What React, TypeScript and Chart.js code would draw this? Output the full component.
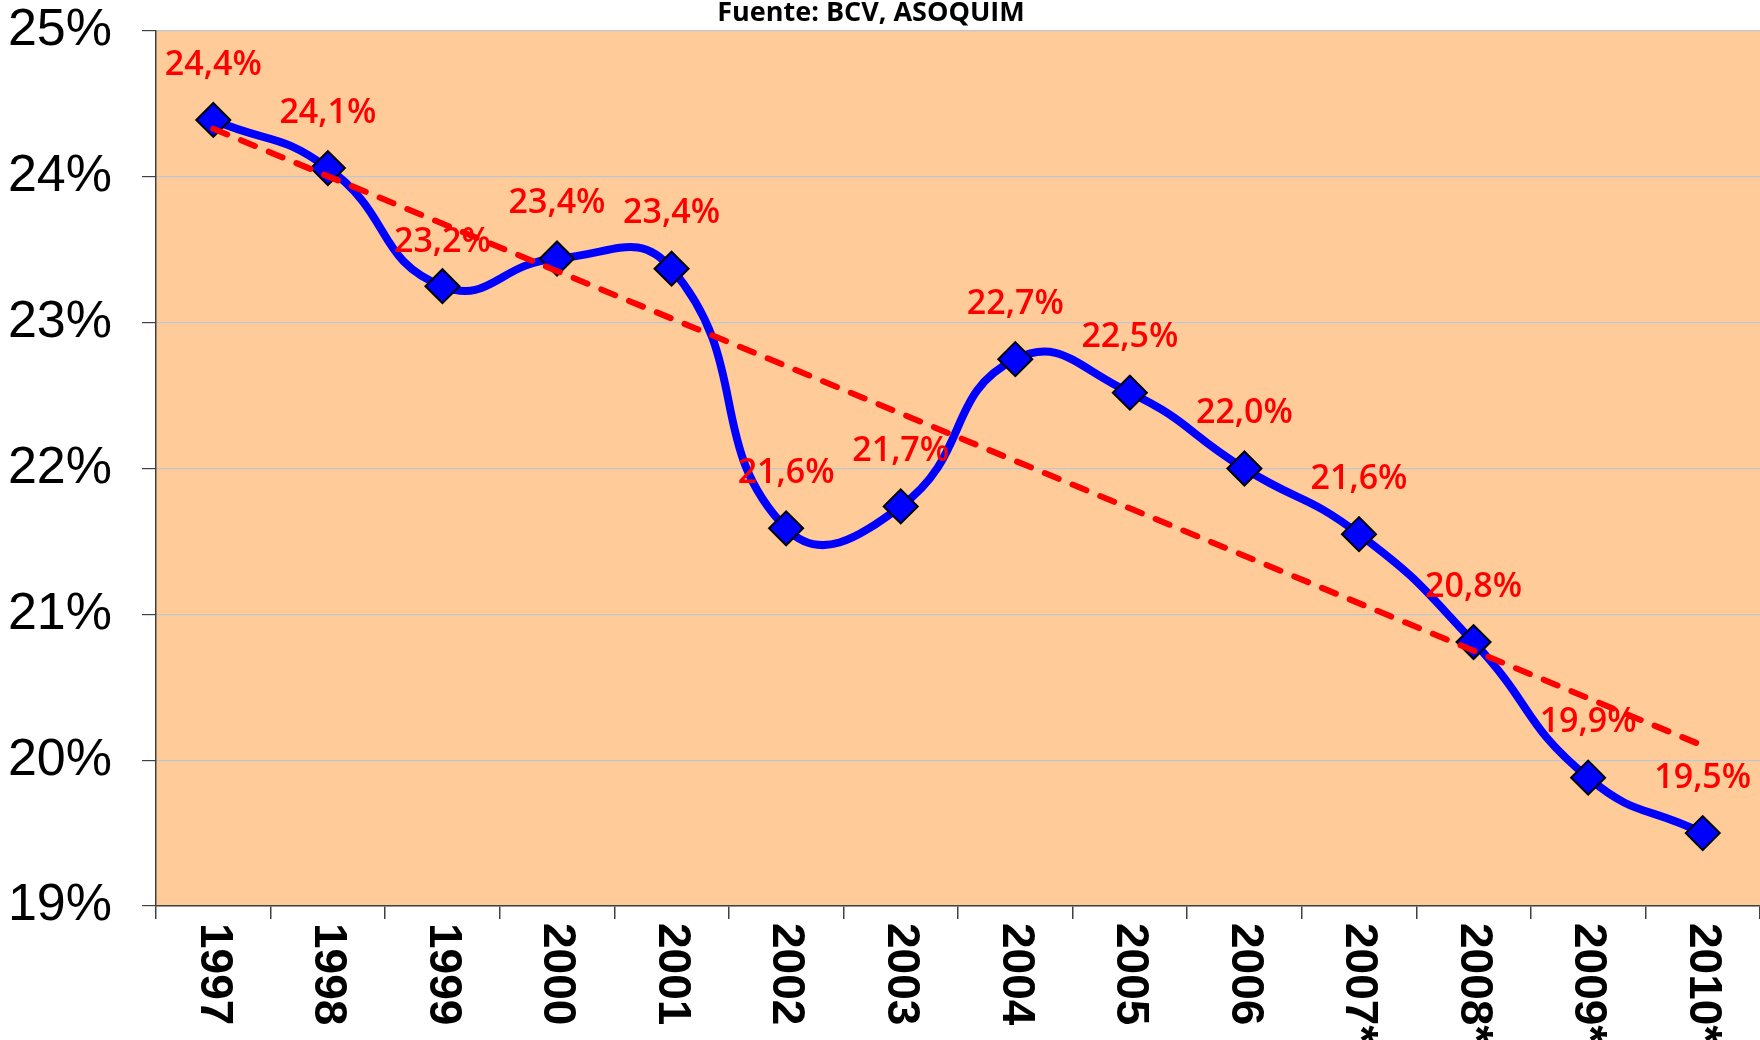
import React, { useEffect, useRef } from 'react';
import { Chart, registerables } from 'chart.js';

Chart.register(...registerables);

const years = ['1997', '1998', '1999', '2000', '2001', '2002', '2003', '2004', '2005', '2006', '2007*', '2008*', '2009*', '2010*'];
const shareValues = [24.39, 24.06, 23.25, 23.44, 23.37, 21.59, 21.74, 22.75, 22.52, 22.0, 21.55, 20.81, 19.88, 19.5];
const shareLabels = ['24,4%', '24,1%', '23,2%', '23,4%', '23,4%', '21,6%', '21,7%', '22,7%', '22,5%', '22,0%', '21,6%', '20,8%', '19,9%', '19,5%'];
const trendValues = [24.33, null, null, null, null, null, null, null, null, null, null, null, null, 20.1];
const yMin = 19;
const yMax = 25;
const titleText = 'Fuente: BCV, ASOQUIM';

const bgPlugin = {
  id: 'plotBg',
  beforeDraw(chart: any) {
    const { ctx, chartArea } = chart;
    ctx.save();
    ctx.fillStyle = '#ffffff';
    ctx.fillRect(0, 0, chart.width, chart.height);
    ctx.fillStyle = '#FECB99';
    ctx.fillRect(chartArea.left, chartArea.top, chartArea.right - chartArea.left, chartArea.bottom - chartArea.top);
    ctx.restore();
  },
};

const xLabelPlugin = {
  id: 'xLabels',
  afterDraw(chart: any) {
    const { ctx, chartArea } = chart;
    const xs = chart.scales.x;
    ctx.save();
    ctx.fillStyle = '#000000';
    ctx.font = 'bold 46px "Liberation Sans", Arial, sans-serif';
    ctx.textAlign = 'left';
    ctx.textBaseline = 'middle';
    years.forEach((lab, i) => {
      const x = xs.getPixelForValue(i);
      ctx.save();
      ctx.translate(x, chartArea.bottom + 17);
      ctx.rotate(Math.PI / 2);
      ctx.fillText(lab, 0, 0);
      ctx.restore();
    });
    ctx.restore();
  },
};

const labelNudge: Record<number, number> = { 2: 11 };

const dataLabelPlugin = {
  id: 'dataLabels',
  afterDatasetsDraw(chart: any) {
    const { ctx } = chart;
    const meta = chart.getDatasetMeta(1);
    ctx.save();
    ctx.fillStyle = '#FF0000';
    ctx.font = '600 34px "Open Sans", sans-serif';
    ctx.textAlign = 'center';
    ctx.textBaseline = 'middle';
    meta.data.forEach((pt: any, i: number) => {
      const lift = 55 - (labelNudge[i] || 0);
      ctx.fillText(shareLabels[i], pt.x, pt.y - lift);
    });
    ctx.restore();
  },
};

export default function App() {
  const ref = useRef<HTMLCanvasElement | null>(null);
  useEffect(() => {
    if (!ref.current) return;
    const chart = new Chart(ref.current, {
      type: 'line',
      data: {
        labels: years,
        datasets: [
          {
            label: 'Tendencia',
            data: trendValues,
            spanGaps: true,
            borderColor: '#FF0000',
            borderWidth: 6,
            borderDash: [15, 15],
            borderCapStyle: 'round',
            pointRadius: 0,
            tension: 0,
            fill: false,
            order: 0,
          },
          {
            label: 'Participación',
            data: shareValues,
            borderColor: '#0000FF',
            borderWidth: 8,
            tension: 0.5,
            pointStyle: 'rectRot',
            pointRadius: 17,
            pointBackgroundColor: '#0000FF',
            pointBorderColor: '#000000',
            pointBorderWidth: 2,
            fill: false,
            order: 1,
          },
        ],
      },
      options: {
        responsive: false,
        animation: false,
        layout: { autoPadding: false, padding: { left: -18, right: 0, top: 0, bottom: 121 } },
        plugins: {
          legend: { display: false },
          tooltip: { enabled: false },
          title: {
            display: true,
            text: titleText,
            color: '#000000',
            font: { family: '"Open Sans", sans-serif', size: 27, weight: 'bold', lineHeight: 1 },
            padding: { top: 0, bottom: 4 },
          },
        },
        scales: {
          x: {
            type: 'category',
            offset: true,
            ticks: { display: false },
            grid: {
              offset: true,
              drawOnChartArea: false,
              drawTicks: true,
              tickLength: 13,
              color: '#404040',
              lineWidth: 1.5,
            },
            border: { display: true, color: '#404040', width: 1.5 },
          },
          y: {
            min: yMin,
            max: yMax,
            ticks: {
              stepSize: 1,
              padding: 30,
              color: '#000000',
              font: { family: '"Liberation Sans", Arial, sans-serif', size: 52 },
              callback: (v: any) => `${v}%`,
            },
            grid: {
              color: '#BFC6CF',
              lineWidth: 1.2,
              tickColor: '#404040',
              tickLength: 14,
            },
            border: { display: true, color: '#404040', width: 1.5 },
            afterFit: (s: any) => {
              s.width = 174;
              s.paddingTop = 0;
              s.paddingBottom = 0;
            },
          },
        },
      },
      plugins: [bgPlugin, xLabelPlugin, dataLabelPlugin],
    } as any);
    return () => chart.destroy();
  }, []);
  return (
    <div style={{ position: 'fixed', left: 0, top: 0, width: 1760, height: 1040, background: '#fff' }}>
      <canvas ref={ref} width={1760} height={1040} style={{ display: 'block' }} />
    </div>
  );
}
